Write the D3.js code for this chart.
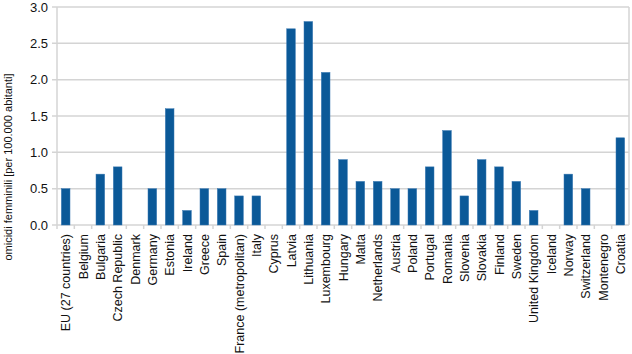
<!DOCTYPE html>
<html>
<head>
<meta charset="utf-8">
<script src="https://cdn.jsdelivr.net/npm/d3@7"></script>
<style>
  body { margin: 0; background: #fff; }
  svg { font-family: "Liberation Sans", Arial, sans-serif; }
</style>
</head>
<body>
<svg width="632" height="354"></svg>
<script>
const countries = ["EU (27 countries)","Belgium","Bulgaria","Czech Republic","Denmark","Germany","Estonia",
  "Ireland","Greece","Spain","France (metropolitan)","Italy","Cyprus","Latvia","Lithuania","Luxembourg",
  "Hungary","Malta","Netherlands","Austria","Poland","Portugal","Romania","Slovenia","Slovakia","Finland",
  "Sweden","United Kingdom","Iceland","Norway","Switzerland","Montenegro","Croatia"];
const values = [0.5,0,0.7,0.8,0,0.5,1.6,0.2,0.5,0.5,0.4,0.4,0,2.7,2.8,2.1,
  0.9,0.6,0.6,0.5,0.5,0.8,1.3,0.4,0.9,0.8,0.6,0.2,0,0.7,0.5,0,1.2];
const yTicks = [0,0.5,1,1.5,2,2.5,3];
const yTitle = "omicidi femminili [per 100.000 abitanti]";

const svg = d3.select("svg");
const plotLeft = 57, plotRight = 629, plotTop = 7, plotBottom = 225;
const grid = "#d4d4d4";

const x = d3.scaleBand().domain(countries).range([plotLeft, plotRight]).paddingInner(0.5).paddingOuter(0.25);
const y = d3.scaleLinear().domain([0, 3]).range([plotBottom, plotTop]);

// gridlines
svg.append("g").selectAll("line")
  .data(yTicks)
  .join("line")
  .attr("x1", plotLeft - 5).attr("x2", plotRight)
  .attr("y1", d => y(d)).attr("y2", d => y(d))
  .attr("stroke", grid).attr("stroke-width", 1.5);

// right border
svg.append("line")
  .attr("x1", plotRight).attr("x2", plotRight).attr("y1", plotTop).attr("y2", plotBottom)
  .attr("stroke", grid).attr("stroke-width", 1.5);

// left axis
svg.append("line")
  .attr("x1", plotLeft).attr("x2", plotLeft).attr("y1", plotTop).attr("y2", plotBottom + 4)
  .attr("stroke", grid).attr("stroke-width", 1.5);

// category tick marks between bands
const step = x.step();
svg.append("g").selectAll("line")
  .data(countries.slice(1))
  .join("line")
  .attr("x1", d => x(d) - step * 0.25).attr("x2", d => x(d) - step * 0.25)
  .attr("y1", plotBottom).attr("y2", plotBottom + 4)
  .attr("stroke", grid).attr("stroke-width", 1.5);

// bars
svg.append("g").selectAll("rect")
  .data(values)
  .join("rect")
  .attr("x", (d, i) => x(countries[i]))
  .attr("width", x.bandwidth())
  .attr("y", d => y(d))
  .attr("height", d => plotBottom - y(d))
  .attr("fill", "#0b5998")
  .attr("stroke", "#3b7ab3")
  .attr("stroke-width", 0.5);

// y tick labels
svg.append("g").selectAll("text")
  .data(yTicks)
  .join("text")
  .attr("x", 48)
  .attr("y", d => y(d))
  .attr("dy", "0.36em")
  .attr("text-anchor", "end")
  .attr("font-size", 13)
  .attr("fill", "#111")
  .text(d => d.toFixed(1));

// category labels
svg.append("g").selectAll("text")
  .data(countries)
  .join("text")
  .attr("transform", d => `translate(${x(d) + x.bandwidth() / 2},234) rotate(-90)`)
  .attr("dy", "0.36em")
  .attr("text-anchor", "end")
  .attr("font-size", 12.5)
  .attr("fill", "#111")
  .text(d => d);

// y title
svg.append("text")
  .attr("transform", "translate(8,167) rotate(-90)")
  .attr("dy", "0.36em")
  .attr("text-anchor", "middle")
  .attr("font-size", 11)
  .attr("fill", "#111")
  .text(yTitle);
</script>
</body>
</html>
